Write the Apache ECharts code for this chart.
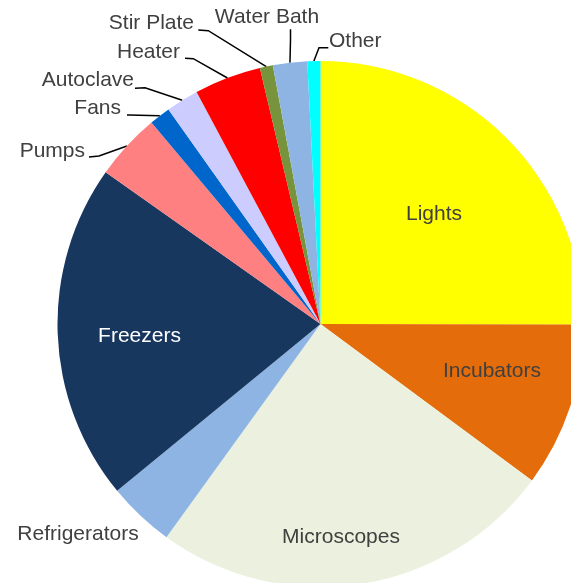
<!DOCTYPE html>
<html>
<head>
<meta charset="utf-8">
<script src="https://cdn.jsdelivr.net/npm/echarts@6/dist/echarts.min.js"></script>
<style>
  html, body { margin: 0; padding: 0; background: #fff; }
  #chart { width: 571px; height: 583px; }
</style>
</head>
<body>
<div id="chart"></div>
<script>
// Share of lab energy use by equipment type (percent)
const categories = ['Lights', 'Incubators', 'Microscopes', 'Refrigerators', 'Freezers', 'Pumps',
  'Fans', 'Autoclave', 'Heater', 'Stir Plate', 'Water Bath', 'Other'];
const shares = [25.0, 10.1, 24.8, 4.1, 20.7, 4.1, 1.3, 2.0, 4.1, 0.8, 2.1, 0.8];
const sliceColors = ['#FFFF00', '#E46C0A', '#EBF1DE', '#8EB4E3', '#17375E', '#FF8080',
  '#0066CC', '#CCCCFF', '#FF0000', '#77933C', '#8EB4E3', '#00FFFF'];

// Pie geometry
const CX = 320.5, CY = 324, R = 263;

// Label placement: text anchor, alignment, and leader-line elbow/end points
const labelSpots = {
  'Lights':        { x: 434,   y: 214.5, align: 'center' },
  'Incubators':    { x: 492,   y: 371,   align: 'center' },
  'Microscopes':   { x: 341,   y: 537,   align: 'center' },
  'Freezers':      { x: 139.5, y: 336.5, align: 'center', color: '#FFFFFF' },
  'Refrigerators': { x: 78,    y: 534,   align: 'center' },
  'Pumps':      { x: 85,  y: 151,  align: 'right',  line: [[99, 156], [89, 157]] },
  'Fans':       { x: 121, y: 108.5, align: 'right',  line: [[129, 115], [127, 115]] },
  'Autoclave':  { x: 134, y: 80,    align: 'right',  line: [[145, 87.7], [135, 88.3]] },
  'Heater':     { x: 180, y: 52,    align: 'right',  line: [[193.3, 58.7], [185, 58.3]] },
  'Stir Plate': { x: 194, y: 23.5,  align: 'right',  line: [[208.3, 30.7], [198.3, 30]] },
  'Water Bath': { x: 267, y: 17,    align: 'center', line: [[290.5, 40], [290.5, 29.3]] },
  'Other':      { x: 329, y: 41,    align: 'left',   line: [[319, 47.7], [328.3, 47.7]] }
};

const total = shares.reduce((a, b) => a + b, 0);
const cumulative = [];
shares.reduce((acc, v) => { cumulative.push(acc); return acc + v; }, 0);

// Point on the pie rim at the middle of a slice (clockwise from 12 o'clock)
function rimPoint(i) {
  const theta = 2 * Math.PI * (cumulative[i] + shares[i] / 2) / total;
  return [CX + R * Math.sin(theta), CY - R * Math.cos(theta)];
}

const outsideNames = ['Refrigerators', 'Pumps', 'Fans', 'Autoclave', 'Heater', 'Stir Plate', 'Water Bath', 'Other'];

const data = categories.map((name, i) => {
  const outside = outsideNames.indexOf(name) >= 0;
  const spot = labelSpots[name];
  return {
    name: name,
    value: shares[i],
    itemStyle: { color: sliceColors[i] },
    label: {
      position: outside ? 'outside' : 'inside',
      color: spot.color || '#404040'
    },
    labelLine: { show: !!spot.line }
  };
});

const chart = echarts.init(document.getElementById('chart'), null, { renderer: 'canvas' });
chart.setOption({
  animation: false,
  backgroundColor: '#FFFFFF',
  series: [{
    type: 'pie',
    center: [CX, CY],
    radius: [0, R],
    startAngle: 90,
    clockwise: true,
    avoidLabelOverlap: false,
    data: data,
    itemStyle: { borderWidth: 0 },
    emphasis: { disabled: true },
    label: {
      show: true,
      formatter: '{b}',
      fontFamily: 'Liberation Sans, Arial, sans-serif',
      fontSize: 21,
      color: '#404040'
    },
    labelLine: {
      show: true,
      lineStyle: { color: '#000000', width: 1.5 }
    },
    labelLayout: function (p) {
      const name = categories[p.dataIndex];
      const spot = labelSpots[name];
      const out = {
        x: spot.x,
        y: spot.y,
        align: spot.align,
        verticalAlign: 'middle',
        hideOverlap: false,
        moveOverlap: false
      };
      if (spot.line) {
        out.labelLinePoints = [rimPoint(p.dataIndex), spot.line[0], spot.line[1]];
      }
      return out;
    }
  }]
});
</script>
</body>
</html>
